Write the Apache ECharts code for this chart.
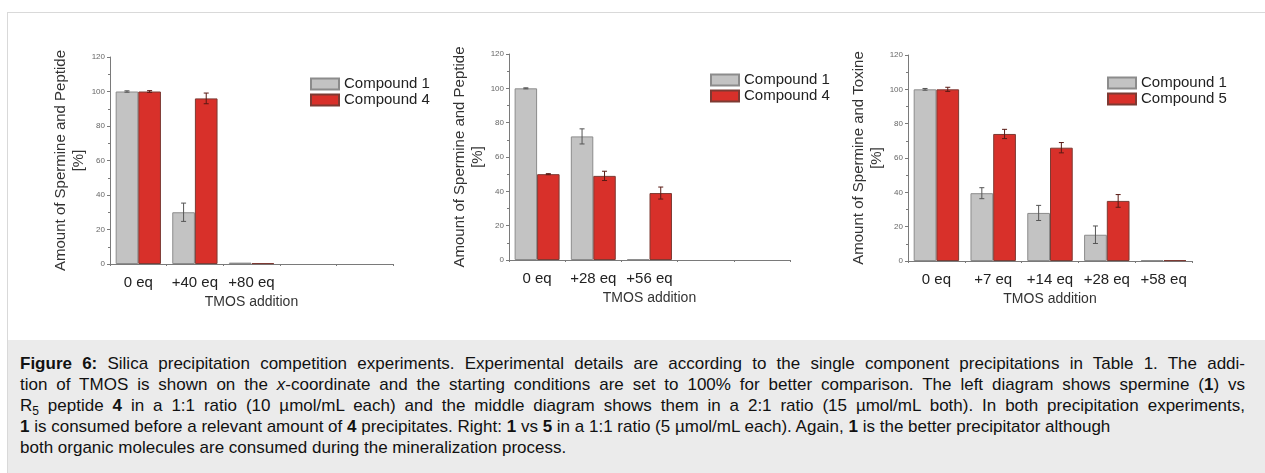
<!DOCTYPE html>
<html>
<head>
<meta charset="utf-8">
<script src="https://cdn.jsdelivr.net/npm/echarts@6/dist/echarts.min.js"></script>
<style>
  body { margin: 0; background: #fff; font-family: "Liberation Sans", Arial, sans-serif; }
  #frame { position: absolute; left: 7px; top: 12px; width: 1300px; height: 500px; border: 1px solid #d9d9d9; }
  #chart { position: absolute; left: 0; top: 0; width: 1265px; height: 340px; }
  #caption { position: absolute; left: 8px; top: 340px; width: 1300px; height: 140px; background: #ebebeb; }
  .ln { position: absolute; left: 12px; width: 1225px; font-size: 17px; line-height: 21px; color: #111;
        white-space: nowrap; text-align: justify; text-align-last: justify; }
  .ln.rag { text-align: left; text-align-last: left; }
  sub { font-size: 12px; line-height: 0; }
</style>
</head>
<body>
<div id="frame"></div>
<div id="chart"></div>
<div id="caption">
  <div class="ln" style="top:13px"><b>Figure 6:</b> Silica precipitation competition experiments. Experimental details are according to the single component precipitations in Table 1. The addi-</div>
  <div class="ln" style="top:34px">tion of TMOS is shown on the <i>x</i>-coordinate and the starting conditions are set to 100% for better comparison. The left diagram shows spermine (<b>1</b>) vs</div>
  <div class="ln" style="top:55px">R<sub>5</sub> peptide <b>4</b> in a 1:1 ratio (10 µmol/mL each) and the middle diagram shows them in a 2:1 ratio (15 µmol/mL both). In both precipitation experiments,</div>
  <div class="ln rag" style="top:76px"><b>1</b> is consumed before a relevant amount of <b>4</b> precipitates. Right: <b>1</b> vs <b>5</b> in a 1:1 ratio (5 µmol/mL each). Again, <b>1</b> is the better precipitator although</div>
  <div class="ln rag" style="top:97px">both organic molecules are consumed during the mineralization process.</div>
</div>
<script>
// categories
var cats1 = ['0 eq', '+40 eq', '+80 eq', '', ''];
var cats2 = ['0 eq', '+28 eq', '+56 eq', '', ''];
var cats3 = ['0 eq', '+7 eq', '+14 eq', '+28 eq', '+58 eq'];

// left: 1 vs 4 (1:1)
var left1 = [100, 30, 0.8, null, null];
var left1Err = [0.4, 5.3, 0, 0, 0];
var left4 = [100, 96, 0.5, null, null];
var left4Err = [0.5, 3.1, 0, 0, 0];

// middle: 1 vs 4 (2:1)
var mid1 = [100, 72, 0.4, null, null];
var mid1Err = [0.3, 4.4, 0, 0, 0];
var mid4 = [50, 49, 39, null, null];
var mid4Err = [0.3, 2.7, 3.5, 0, 0];

// right: 1 vs 5
var right1 = [100, 39.5, 28, 15.3, 0.5];
var right1Err = [0.5, 3.2, 4.4, 5.1, 0];
var right5 = [100, 74, 66, 35, 0.5];
var right5Err = [1.2, 2.7, 3, 3.7, 0];

var yNames = ['Amount of Spermine and Peptide\n[%]', 'Amount of Spermine and Peptide\n[%]', 'Amount of Spermine and Toxine\n[%]'];

var axisGray = '#7a7a7a';
var grayFill = '#c3c3c3', grayEdge = '#8c8c8c';
var redFill = '#d8302a', redEdge = '#7d3a33';

var grids = [
  { left: 110, top: 57, width: 283, height: 207 },
  { left: 509, top: 54, width: 281, height: 206 },
  { left: 908, top: 55, width: 284, height: 206 }
];
var legendPos = [
  { left: 305, top: 71 },
  { left: 705, top: 67 },
  { left: 1102, top: 70 }
];

function catAxis(g, cats) {
  return {
    type: 'category', gridIndex: g, data: cats, boundaryGap: true,
    axisLine: { lineStyle: { color: axisGray, width: 1 } },
    axisTick: { alignWithLabel: true, length: 4, lineStyle: { color: axisGray } },
    axisLabel: { interval: 0, fontSize: 15, color: '#222', margin: 11 },
    name: 'TMOS addition', nameLocation: 'middle', nameGap: 30,
    nameTextStyle: { fontSize: 14, color: '#333' }
  };
}
function edgeAxis(g) {
  // short ticks at the category boundaries
  return {
    type: 'value', gridIndex: g, position: 'bottom', min: 0, max: 5, interval: 1,
    axisLine: { show: false }, axisLabel: { show: false }, splitLine: { show: false },
    axisTick: { show: true, length: 2, lineStyle: { color: axisGray } }
  };
}
function valAxis(g) {
  return {
    type: 'value', gridIndex: g, min: 0, max: 120, interval: 20,
    axisLine: { show: true, lineStyle: { color: axisGray } },
    axisTick: { show: true, length: 3, lineStyle: { color: axisGray } },
    minorTick: { show: true, splitNumber: 2, length: 2, lineStyle: { color: axisGray } },
    axisLabel: { fontSize: 8, color: '#666', margin: 5 },
    splitLine: { show: false },
    name: yNames[g], nameLocation: 'middle', nameGap: 17,
    nameTextStyle: { fontSize: 15, color: '#333', lineHeight: 18 }
  };
}
function barSeries(g, name, data, fill, edge) {
  return {
    type: 'bar', name: name, xAxisIndex: g, yAxisIndex: g, data: data,
    barGap: '0%', barCategoryGap: '20%',
    itemStyle: { color: fill, borderColor: edge, borderWidth: 1 }
  };
}
function errSeries(g, vals, errs, side, color) {
  var pts = [];
  vals.forEach(function (v, i) {
    if (v != null && errs[i]) pts.push([i, v - errs[i], v + errs[i]]);
  });
  return {
    type: 'custom', xAxisIndex: g, yAxisIndex: g, z: 10, silent: true, data: pts,
    encode: { x: 0, y: [1, 2] },
    renderItem: function (params, api) {
      var lo = api.coord([api.value(0), api.value(1)]);
      var hi = api.coord([api.value(0), api.value(2)]);
      var band = api.size([1, 0])[0];
      var x = lo[0] + side * band * 0.2;
      var w = 2.5;
      var st = { stroke: color, lineWidth: 1 };
      return {
        type: 'group', children: [
          { type: 'line', shape: { x1: x, y1: lo[1], x2: x, y2: hi[1] }, style: st },
          { type: 'line', shape: { x1: x - w, y1: lo[1], x2: x + w, y2: lo[1] }, style: st },
          { type: 'line', shape: { x1: x - w, y1: hi[1], x2: x + w, y2: hi[1] }, style: st }
        ]
      };
    }
  };
}
function legend(g, names) {
  return {
    left: legendPos[g].left, top: legendPos[g].top, orient: 'vertical',
    itemWidth: 28, itemHeight: 11, itemGap: 0, icon: 'rect',
    textStyle: { fontSize: 15, color: '#222', lineHeight: 16 },
    data: names
  };
}

var chart = echarts.init(document.getElementById('chart'));
var option = {
  animation: false,
  grid: grids,
  legend: [
    legend(0, ['Compound 1', 'Compound 4']),
    legend(1, ['Compound 1', 'Compound 4']),
    legend(2, ['Compound 1', 'Compound 5'])
  ],
  xAxis: [catAxis(0, cats1), catAxis(1, cats2), catAxis(2, cats3), edgeAxis(0), edgeAxis(1), edgeAxis(2)],
  yAxis: [valAxis(0), valAxis(1), valAxis(2)],
  series: [
    barSeries(0, 'Compound 1', left1, grayFill, grayEdge),
    barSeries(0, 'Compound 4', left4, redFill, redEdge),
    barSeries(1, 'Compound 1', mid1, grayFill, grayEdge),
    barSeries(1, 'Compound 4', mid4, redFill, redEdge),
    barSeries(2, 'Compound 1', right1, grayFill, grayEdge),
    barSeries(2, 'Compound 5', right5, redFill, redEdge),
    errSeries(0, left1, left1Err, -1, '#555'),
    errSeries(0, left4, left4Err, 1, '#5a1a14'),
    errSeries(1, mid1, mid1Err, -1, '#555'),
    errSeries(1, mid4, mid4Err, 1, '#5a1a14'),
    errSeries(2, right1, right1Err, -1, '#555'),
    errSeries(2, right5, right5Err, 1, '#5a1a14')
  ]
};
chart.setOption(option);
</script>
</body>
</html>
